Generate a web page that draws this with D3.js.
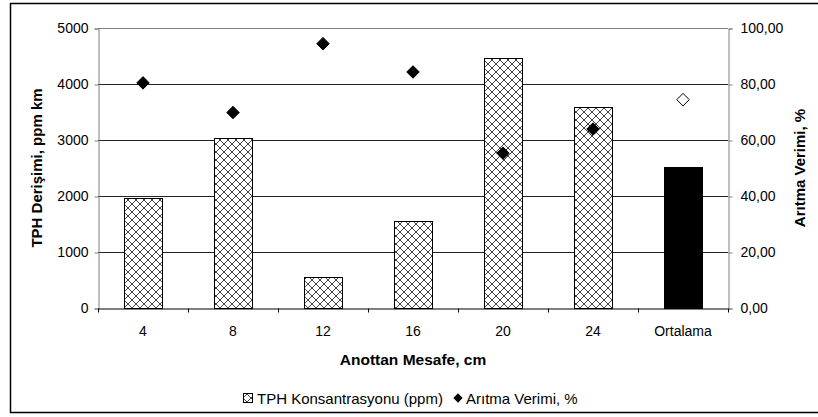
<!DOCTYPE html>
<html>
<head>
<meta charset="utf-8">
<script src="https://cdn.jsdelivr.net/npm/d3@7"></script>
<style>
  body { margin: 0; background: #fff; }
  svg { font-family: "Liberation Sans", Arial, sans-serif; }
</style>
</head>
<body>
<svg id="chart" width="818" height="417"></svg>
<script>
// values
var categories = ['4', '8', '12', '16', '20', '24', 'Ortalama']
var tphValues = [1970, 3030, 545, 1560, 4465, 3590, 2515]
var verimValues = [80.4, 69.8, 94.4, 84.3, 55.3, 63.9, 74.4]
var leftTicks = [0, 1000, 2000, 3000, 4000, 5000]
var rightTicks = [0, 20, 40, 60, 80, 100]

function drawChart() {
    var svg = d3.select('#chart')
    var left = 98, right = 728, topY = 28, bottom = 308

    var x = d3.scaleBand().domain(categories).range([left, right])
    var yL = d3.scaleLinear().domain([0, 5000]).range([bottom, topY])
    var yR = d3.scaleLinear().domain([0, 100]).range([bottom, topY])

    // hatch pattern
    var defs = svg.append('defs')
    var pat = defs.append('pattern')
        .attr('id', 'hatch')
        .attr('patternUnits', 'userSpaceOnUse')
        .attr('width', 8).attr('height', 8)
    pat.append('rect').attr('width', 8).attr('height', 8).attr('fill', '#fff')
    pat.append('path')
        .attr('d', 'M0,0L8,8M0,8L8,0')
        .attr('stroke', '#444').attr('stroke-width', 1)

    // outer frame
    svg.append('rect')
        .attr('x', 10.5).attr('y', 3.5)
        .attr('width', 820).attr('height', 409)
        .attr('fill', 'none').attr('stroke', '#000').attr('stroke-width', 1.5)

    // gridlines
    svg.append('g').selectAll('line')
        .data(leftTicks.slice(1))
        .join('line')
        .attr('x1', left).attr('x2', right)
        .attr('y1', d => Math.round(yL(d)) + 0.5)
        .attr('y2', d => Math.round(yL(d)) + 0.5)
        .attr('stroke', d => d == 5000 ? '#808080' : '#222')

    // bars
    svg.append('g').selectAll('rect')
        .data(tphValues)
        .join('rect')
        .attr('x', (d, i) => Math.round(x(categories[i]) + x.bandwidth() * 0.29) + 0.5)
        .attr('width', Math.round(x.bandwidth() * 0.42))
        .attr('y', d => Math.round(yL(d)) + 0.5)
        .attr('height', d => bottom - Math.round(yL(d)))
        .attr('fill', (d, i) => categories[i] == 'Ortalama' ? '#000' : 'url(#hatch)')
        .attr('stroke', '#000')

    // left axis
    var axL = svg.append('g')
        .attr('transform', 'translate(' + (left + 0.5) + ',0.5)')
        .call(d3.axisLeft(yL).tickValues(leftTicks).tickSize(4).tickPadding(6).tickFormat(d3.format('d')))
    axL.select('.domain').attr('stroke', '#808080')
    axL.selectAll('.tick line').attr('stroke', '#808080')

    // right axis
    var axR = svg.append('g')
        .attr('transform', 'translate(' + (right + 0.5) + ',0.5)')
        .call(d3.axisRight(yR).tickValues(rightTicks).tickSize(4).tickPadding(8)
            .tickFormat(d => d.toFixed(2).replace('.', ',')))
    axR.select('.domain').attr('stroke', '#808080')
    axR.selectAll('.tick line').attr('stroke', '#808080')

    // bottom axis
    var axB = svg.append('g')
        .attr('transform', 'translate(0,' + (bottom + 0.5) + ')')
        .call(d3.axisBottom(x).tickSize(0).tickPadding(18))
    axB.select('.domain').attr('stroke', '#000')
    axB.selectAll('.bound')
        .data(d3.range(categories.length + 1))
        .join('line')
        .attr('x1', i => Math.round(left + i * x.step()) + 0.5)
        .attr('x2', i => Math.round(left + i * x.step()) + 0.5)
        .attr('y1', 0).attr('y2', 4)
        .attr('stroke', '#000')

    svg.selectAll('.tick text').attr('font-size', 14).attr('fill', '#000')
        .style('font-family', '"Liberation Sans", Arial, sans-serif')

    // diamonds
    var sym = d3.symbol().type(d3.symbolDiamond2).size(100)
    svg.append('g').selectAll('path')
        .data(verimValues)
        .join('path')
        .attr('transform', (d, i) => 'translate(' + (x(categories[i]) + x.bandwidth() / 2) + ',' + yR(d) + ')')
        .attr('d', sym)
        .attr('fill', (d, i) => categories[i] == 'Ortalama' ? '#fff' : '#000')
        .attr('stroke', '#000')
        .attr('stroke-width', 1)

    // axis titles
    svg.append('text')
        .attr('transform', 'translate(42,' + (topY + bottom) / 2 + ') rotate(-90)')
        .attr('text-anchor', 'middle')
        .attr('font-size', 15).attr('font-weight', 'bold')
        .text('TPH Derişimi, ppm km')
    svg.append('text')
        .attr('transform', 'translate(805,' + (topY + bottom) / 2 + ') rotate(-90)')
        .attr('text-anchor', 'middle')
        .attr('font-size', 15).attr('font-weight', 'bold')
        .text('Arıtma Verimi, %')
    svg.append('text')
        .attr('x', (left + right) / 2).attr('y', 365)
        .attr('text-anchor', 'middle')
        .attr('font-size', 15.5).attr('font-weight', 'bold')
        .text('Anottan Mesafe, cm')

    // legend
    var lg = svg.append('g').attr('transform', 'translate(243,398)')
    lg.append('rect').attr('x', 0.5).attr('y', -4.5).attr('width', 9).attr('height', 9)
        .attr('fill', 'url(#hatch)').attr('stroke', '#000')
    lg.append('text').attr('x', 14).attr('y', 5.5).attr('font-size', 15)
        .text('TPH Konsantrasyonu (ppm)')
    lg.append('path').attr('transform', 'translate(215,0)')
        .attr('d', d3.symbol().type(d3.symbolDiamond2).size(55))
        .attr('fill', '#000')
    lg.append('text').attr('x', 223).attr('y', 5.5).attr('font-size', 15)
        .text('Arıtma Verimi, %')
}

drawChart()
</script>
</body>
</html>
